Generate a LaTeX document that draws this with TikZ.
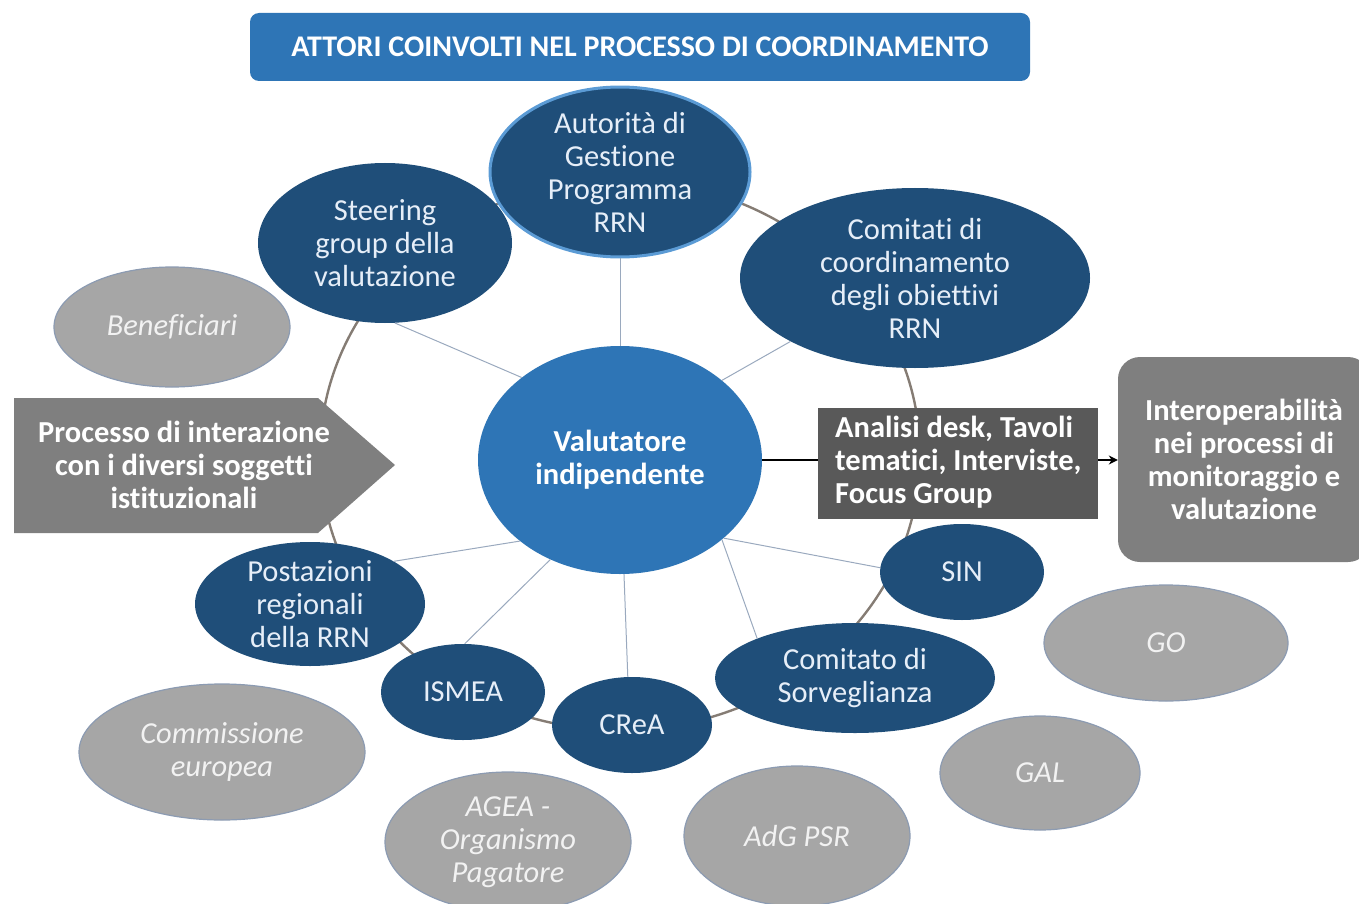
\documentclass[tikz,border=0pt]{standalone}
\usepackage{fontspec}
\setmainfont{Carlito}[Ligatures=NoCommon]
\usetikzlibrary{arrows.meta,shapes.geometric}
\definecolor{darkblue}{HTML}{1F4E79}
\definecolor{midblue}{HTML}{2E75B6}
\definecolor{lightblue}{HTML}{5B9BD5}
\definecolor{paleblue}{HTML}{E6EEF8}
\definecolor{greyfill}{HTML}{A6A6A6}
\definecolor{greyedge}{HTML}{8C9BB2}
\definecolor{midgrey}{HTML}{7F7F7F}
\definecolor{darkgrey}{HTML}{595959}
\definecolor{ringcol}{HTML}{857C74}
\definecolor{spokecol}{HTML}{9AA9BE}
\newcommand\bodysize{\fontsize{30.5}{33}\selectfont}
\tikzset{
  txt/.style={font=\bodysize, align=center},
  actor/.style={ellipse, fill=darkblue, text=paleblue, txt, inner sep=0pt},
  outer/.style={ellipse, fill=greyfill, draw=greyedge, line width=1.2pt, text=white!95!black, txt, font=\bodysize\itshape, inner sep=0pt},
  spoke/.style={draw=spokecol, line width=1pt},
  ring/.style={draw=ringcol, line width=2.4pt},
}
\begin{document}
\begin{tikzpicture}[x=1pt,y=-1pt]
\useasboundingbox (0,0) rectangle (1359,904);

% ring linking the actors
\draw[ring] (620,455) ellipse [x radius=300, y radius=275];

% title banner
\node[fill=midblue, rounded corners=9pt, minimum width=780, minimum height=68, inner sep=0pt,
      text=white, font=\fontsize{30}{34}\selectfont\bfseries] (title) at (640,47)
  {ATTORI COINVOLTI NEL PROCESSO DI COORDINAMENTO};

% grey external subjects
\node[outer, minimum width=236, minimum height=120] (benef) at (172,327) {Beneficiari};
\node[outer, minimum width=286, minimum height=136] (comm) at (222,752) {Commissione\\europea};
\node[outer, minimum width=246, minimum height=140] (agea) at (508,842) {AGEA -\\Organismo\\Pagatore};
\node[outer, minimum width=226, minimum height=140] (adg) at (797,836) {AdG PSR};
\node[outer, minimum width=200, minimum height=114] (gal) at (1040,773) {GAL};
\node[outer, minimum width=244, minimum height=116] (go) at (1166,643) {GO};

% central evaluator
\node[ellipse, fill=midblue, minimum width=284, minimum height=228, inner sep=0pt,
      text=white, txt, font=\bodysize\bfseries] (val) at (620,460)
  {Valutatore\\indipendente};

% institutional actors
\node[actor, minimum width=254, minimum height=160] (steer) at (385,243) {Steering\\group della\\valutazione};
\node[actor, draw=lightblue, line width=3pt, minimum width=260, minimum height=150] (aut) at (620,172) {Autorità di\\Gestione\\Programma\\RRN};
\node[actor, minimum width=350, minimum height=180] (comi) at (915,278) {Comitati di\\coordinamento\\degli obiettivi\\RRN};
\node[actor, minimum width=164, minimum height=96] (sin) at (962,572) {SIN};
\node[actor, minimum width=280, minimum height=110] (sorv) at (855,678) {Comitato di\\Sorveglianza};
\node[actor, minimum width=160, minimum height=96] (crea) at (632,725) {CReA};
\node[actor, minimum width=164, minimum height=96] (ismea) at (463,692) {ISMEA};
\node[actor, minimum width=230, minimum height=124] (post) at (310,604) {Postazioni\\regionali\\della RRN};

% spokes from the evaluator
\draw[spoke] (val.140) -- (steer.-83);
\draw[spoke] (val.north) -- (aut.south);
\draw[spoke] (val.38) -- (comi.-153);
\draw[spoke] (val.-37) -- (sin.177);
\draw[spoke] (val.-38) -- (sorv.158);
\draw[spoke] (val.-88) -- (crea.95);
\draw[spoke] (val.-125) -- (ismea.88);
\draw[spoke] (val.-141) -- (post.27);

% interaction process arrow
\fill[midgrey] (14,398) -- (318,398) -- (395,465) -- (318,533) -- (14,533) -- cycle;
\node[txt, text=white, font=\bodysize\bfseries] (proc) at (184,465)
  {Processo di interazione\\con i diversi soggetti\\istituzionali};

% methods box
\node[fill=darkgrey, minimum width=280, minimum height=111, inner sep=0pt] (meth) at (958,463.5) {};
\node[text=white, font=\bodysize\bfseries, align=left, anchor=west, inner sep=0pt] (methtxt) at (835,462)
  {Analisi desk, Tavoli\\tematici, Interviste,\\Focus Group};

% interoperability box
\node[fill=midgrey, rounded corners=22pt, minimum width=252, minimum height=205, inner sep=0pt,
      text=white, txt, font=\bodysize\bfseries] (inter) at (1244,459.5)
  {Interoperabilità\\nei processi di\\monitoraggio e\\valutazione};

\draw[black, line width=2pt] (val.east) -- (val.east -| meth.west);
\draw[black, line width=1.6pt, -{Stealth[length=9pt,width=9pt]}] (meth.east |- 0,460) -- (inter.west |- 0,460);
\end{tikzpicture}
\end{document}
